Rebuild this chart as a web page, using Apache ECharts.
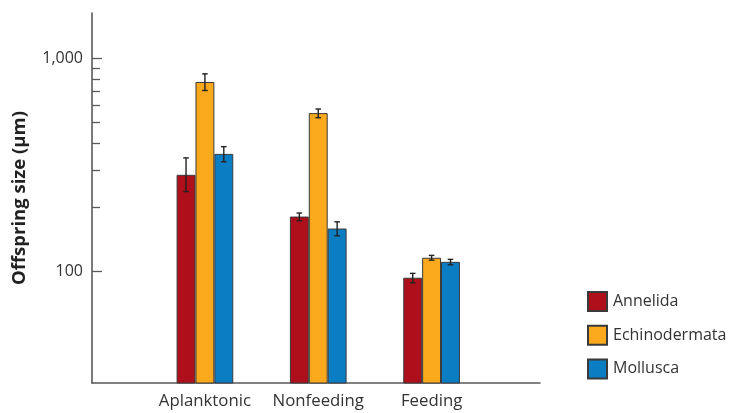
<!DOCTYPE html>
<html>
<head>
<meta charset="utf-8">
<script src="https://cdn.jsdelivr.net/npm/echarts@6/dist/echarts.min.js"></script>
<style>html,body{margin:0;padding:0;background:#fff}#c{width:731px;height:413px}</style>
</head>
<body>
<div id="c"></div>
<script>
const categories = ['Aplanktonic', 'Nonfeeding', 'Feeding'];
const seriesNames = ['Annelida', 'Echinodermata', 'Mollusca'];
const annelida = [284, 181, 93.5];
const annelidaLow = [237, 173, 88.5];
const annelidaHigh = [341, 188, 98];
const echinodermata = [774, 553, 116];
const echinodermataLow = [706, 526, 113];
const echinodermataHigh = [845, 578, 119];
const mollusca = [356, 159, 111];
const molluscaLow = [327, 147, 107.5];
const molluscaHigh = [385, 171, 114];
const majorTicks = [100, 1000];
const minorTicks = [200, 300, 400, 500, 600, 700, 800, 900];

const colors = ['#AE0F1A', '#F9A91B', '#0A7DC3'];
const values = [annelida, echinodermata, mollusca];
const lows = [annelidaLow, echinodermataLow, molluscaLow];
const highs = [annelidaHigh, echinodermataHigh, molluscaHigh];
const FONT = 'Open Sans';
const YMIN = 30, YMAX = 1630;

const chart = echarts.init(document.getElementById('c'), null, {renderer: 'canvas'});

const barSeries = seriesNames.map((name, i) => ({
  name: name,
  type: 'bar',
  xAxisIndex: 0,
  yAxisIndex: 0,
  data: values[i],
  barGap: '0%',
  barCategoryGap: '50%',
  itemStyle: {color: colors[i], borderColor: '#3a3a3a', borderWidth: 1},
  emphasis: {disabled: true},
  animation: false
}));

const errSeries = seriesNames.map((name, i) => ({
  name: name + ' error',
  type: 'custom',
  xAxisIndex: 0,
  yAxisIndex: 0,
  data: categories.map((c, j) => [j, lows[i][j], highs[i][j]]),
  renderItem: function (params, api) {
    const band = api.size([1, 0])[0];
    const off = (i - 1) * band / 6;
    const lo = api.coord([api.value(0), api.value(1)]);
    const hi = api.coord([api.value(0), api.value(2)]);
    const x = lo[0] + off;
    const cap = 2.8;
    const st = {stroke: '#222', lineWidth: 1.4};
    return {
      type: 'group',
      children: [
        {type: 'line', shape: {x1: x, y1: lo[1], x2: x, y2: hi[1]}, style: st},
        {type: 'line', shape: {x1: x - cap, y1: lo[1], x2: x + cap, y2: lo[1]}, style: st},
        {type: 'line', shape: {x1: x - cap, y1: hi[1], x2: x + cap, y2: hi[1]}, style: st}
      ]
    };
  },
  z: 5,
  animation: false
}));

chart.setOption({
  animation: false,
  backgroundColor: '#fff',
  textStyle: {fontFamily: FONT},
  grid: [
    {left: 148.25, right: 242.75, top: 13, bottom: 30},
    {left: 92, right: 191, top: 13, bottom: 30}
  ],
  legend: {
    data: seriesNames,
    orient: 'vertical',
    left: 587,
    top: 291,
    padding: 0,
    itemWidth: 19,
    itemHeight: 19,
    itemGap: 12.7,
    icon: 'rect',
    selectedMode: false,
    textStyle: {fontFamily: FONT, fontSize: 16, color: '#333', padding: [0, 0, 0, 1]}
  },
  xAxis: [
    {
      type: 'category', gridIndex: 0, data: categories,
      axisLine: {show: false}, axisTick: {show: false},
      axisLabel: {interval: 0, fontFamily: FONT, fontSize: 16.8, color: '#333', margin: 10}
    },
    {
      type: 'value', gridIndex: 1, min: 0, max: 1,
      axisLine: {show: true, lineStyle: {color: '#5a5a5a', width: 1.6}},
      axisTick: {show: false}, axisLabel: {show: false}, splitLine: {show: false}
    }
  ],
  yAxis: [
    {type: 'log', gridIndex: 0, min: YMIN, max: YMAX, show: false},
    {
      type: 'log', gridIndex: 1, min: YMIN, max: YMAX, position: 'left',
      name: 'Offspring size (µm)', nameLocation: 'middle', nameGap: 63,
      nameTextStyle: {fontFamily: FONT, fontSize: 18.5, fontWeight: 'bold', color: '#222'},
      axisLine: {show: true, lineStyle: {color: '#5a5a5a', width: 1.6}},
      axisTick: {show: true, inside: true, length: 10, customValues: majorTicks, lineStyle: {color: '#5a5a5a', width: 1.3}},
      axisLabel: {customValues: majorTicks, fontFamily: FONT, fontSize: 16, color: '#333', margin: 9,
        formatter: v => Number(v).toLocaleString('en-US')},
      splitLine: {show: false}
    },
    {
      type: 'log', gridIndex: 1, min: YMIN, max: YMAX, position: 'left', offset: 0,
      axisLine: {show: false},
      axisTick: {show: true, inside: true, length: 8, customValues: minorTicks, lineStyle: {color: '#5a5a5a', width: 1.3}},
      axisLabel: {show: false},
      splitLine: {show: false}
    }
  ],
  series: barSeries.concat(errSeries)
});
</script>
</body>
</html>
